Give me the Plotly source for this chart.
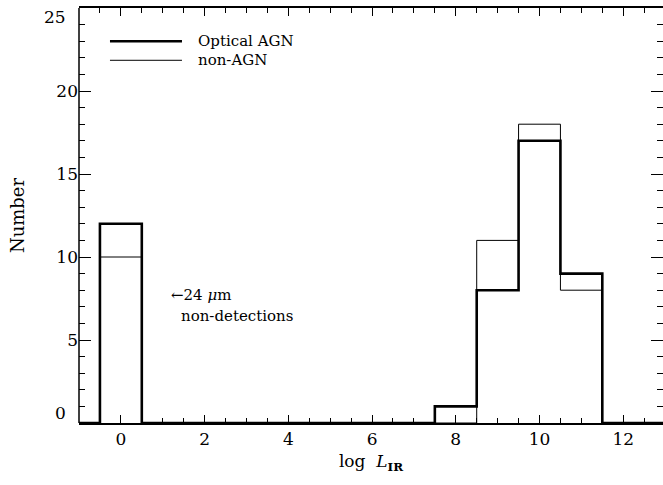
import numpy as np
import plotly.graph_objects as go

# Histogram of infrared luminosity, bins of width 1 centred on integers
bin_centers = [0, 1, 2, 3, 4, 5, 6, 7, 8, 9, 10, 11, 12]
agn_counts = [12, 0, 0, 0, 0, 0, 0, 0, 1, 8, 17, 9, 0]
non_agn_counts = [10, 0, 0, 0, 0, 0, 0, 0, 0, 11, 18, 8, 0]

y_tick_vals = [5, 10, 15, 20]
x_tick_vals = [0, 2, 4, 6, 8, 10, 12]

FONT = "DejaVu Serif"


def step_outline(centers, counts):
    """Return x/y vertices of a histogram outline for an 'hv' line."""
    c = np.asarray(centers, dtype=float)
    edges = np.concatenate([c - 0.5, [c[-1] + 0.5]])
    xs = np.concatenate([[edges[0] - 1.0], edges, [edges[-1] + 1.0]])
    ys = np.concatenate([[0], counts, [0, 0]])
    return xs, ys


fig = go.Figure()

xn, yn = step_outline(bin_centers, non_agn_counts)
fig.add_trace(go.Scatter(x=xn, y=yn, mode="lines", line_shape="hv",
                         line=dict(color="black", width=1), name="non-AGN",
                         showlegend=False, hoverinfo="skip"))

xa, ya = step_outline(bin_centers, agn_counts)
fig.add_trace(go.Scatter(x=xa, y=ya, mode="lines", line_shape="hv",
                         line=dict(color="black", width=2.6), name="Optical AGN",
                         showlegend=False, hoverinfo="skip"))

# Legend drawn by hand: long line samples with text to the right
legend_rows = [("Optical AGN", 2.6, 23.0), ("non-AGN", 1.0, 21.85)]
for label, lw, yv in legend_rows:
    fig.add_shape(type="line", xref="x", yref="y", x0=-0.26, x1=1.46, y0=yv, y1=yv,
                  line=dict(color="black", width=lw))
    fig.add_annotation(x=1.8, y=yv, xref="x", yref="y", text=label, showarrow=False,
                       xanchor="left", yanchor="middle",
                       font=dict(family=FONT, size=15, color="black"))

# Note next to the zero bin
fig.add_annotation(x=1.16, y=7.7, xref="x", yref="y", text="←24 <i>μ</i>m",
                   showarrow=False, xanchor="left", yanchor="middle",
                   font=dict(family=FONT, size=15, color="black"))
fig.add_annotation(x=1.4, y=6.45, xref="x", yref="y", text="non-detections",
                   showarrow=False, xanchor="left", yanchor="middle",
                   font=dict(family=FONT, size=15, color="black"))

# End labels of the y axis sit slightly inside the frame
for txt, yv in [("0", 0.6), ("25", 24.45)]:
    fig.add_annotation(x=0, xref="paper", y=yv, yref="y", text=txt, showarrow=False,
                       xanchor="right", yanchor="middle", xshift=-11,
                       font=dict(family=FONT, size=17, color="black"))

# Left frame line (the right side only carries ticks)
fig.add_shape(type="line", xref="paper", yref="paper", x0=0, x1=0, y0=0, y1=1,
              line=dict(color="black", width=1.5))

fig.update_xaxes(range=[-1, 12.95], tickvals=x_tick_vals, ticks="inside", ticklen=8,
                 tickwidth=1, tickcolor="black", showline=True, linecolor="black",
                 linewidth=1.5, mirror="allticks", showgrid=False, zeroline=False,
                 minor=dict(dtick=0.5, ticks="inside", ticklen=5, tickwidth=1,
                            tickcolor="black", showgrid=False),
                 tickfont=dict(family=FONT, size=17, color="black"),
                 title=dict(text="log  <i>L</i><sub><b>IR</b></sub>",
                            font=dict(family=FONT, size=17, color="black"), standoff=7))
fig.update_yaxes(range=[0, 25], tickvals=y_tick_vals, ticks="inside", ticklen=12,
                 tickwidth=1, tickcolor="black", showline=False,
                 mirror="allticks", showgrid=False, zeroline=False,
                 minor=dict(dtick=1, ticks="inside", ticklen=6, tickwidth=1,
                            tickcolor="black", showgrid=False),
                 tickfont=dict(family=FONT, size=17, color="black"),
                 title=dict(text="Number", font=dict(family=FONT, size=18, color="black"),
                            standoff=27))

fig.update_layout(width=663, height=485, margin=dict(l=79, r=0, t=8, b=62),
                  paper_bgcolor="white", plot_bgcolor="white", showlegend=False)

fig.write_html("out.html")
